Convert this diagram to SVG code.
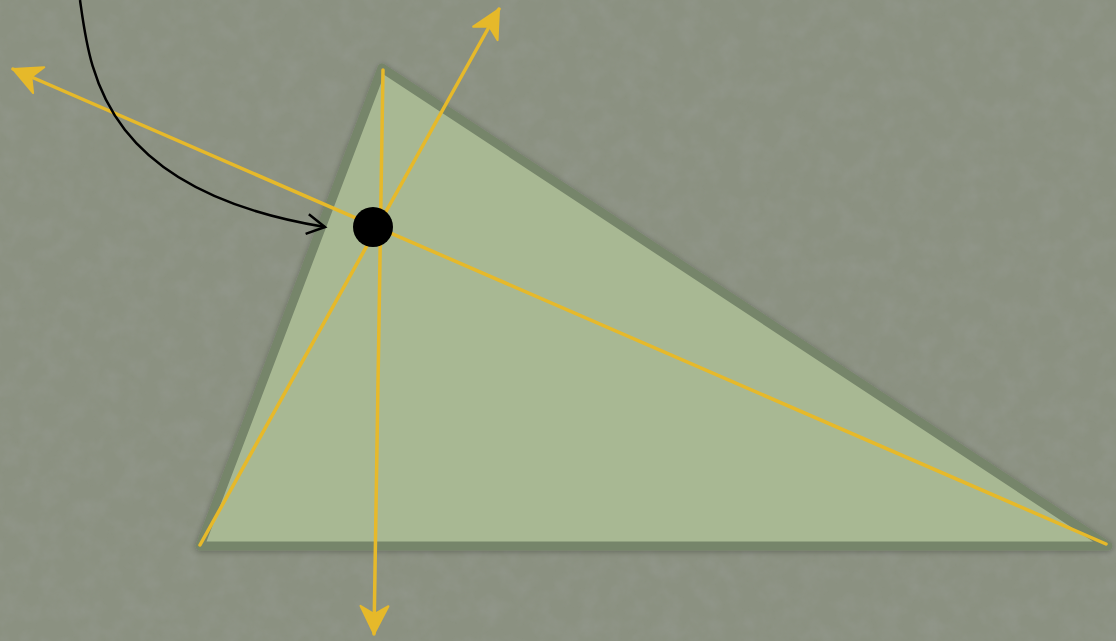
<svg xmlns="http://www.w3.org/2000/svg" width="1116" height="641" viewBox="0 0 1116 641">
<defs>
<filter id="tex" x="0" y="0" width="100%" height="100%">
<feTurbulence type="fractalNoise" baseFrequency="0.05" numOctaves="4" seed="3" result="n"/>
<feColorMatrix in="n" type="matrix" values="0 0 0 0 0.3  0 0 0 0 0.32  0 0 0 0 0.28  0 0 0 -1.0 0.6" result="m"/>
<feComposite in="m" in2="SourceGraphic" operator="in"/>
</filter>
<filter id="sh" x="-10%" y="-10%" width="120%" height="120%">
<feGaussianBlur in="SourceAlpha" stdDeviation="3"/>
<feOffset dx="0" dy="1"/>
<feComponentTransfer><feFuncA type="linear" slope="0.3"/></feComponentTransfer>
<feMerge><feMergeNode/><feMergeNode in="SourceGraphic"/></feMerge>
</filter>
<marker id="ya" markerUnits="userSpaceOnUse" markerWidth="40" markerHeight="40" viewBox="-30 -20 40 40" refX="0" refY="0" orient="auto">
<path d="M -28 -14 L 0 0 L -28 14 L -20 0 Z" fill="#e6b92a" stroke="#e6b92a" stroke-width="2" stroke-linejoin="round"/>
</marker>
<marker id="ba" markerUnits="userSpaceOnUse" markerWidth="30" markerHeight="30" viewBox="-20 -15 30 30" refX="0" refY="0" orient="auto">
<path d="M -18 -10 L 0 0 L -18 10" fill="none" stroke="#000" stroke-width="2.5" stroke-linejoin="miter"/>
</marker>
<style>
.alt{fill:none;stroke:#e6b92a;stroke-width:3.5;stroke-linecap:round;marker-end:url(#ya);}
</style>
</defs>
<rect width="1116" height="641" fill="#8b9181"/>
<rect width="1116" height="641" fill="#8b9181" filter="url(#tex)"/>
<g id="triangle" filter="url(#sh)">
<polygon points="382,68 200,546 1108,546" fill="#a8b893" stroke="#76856a" stroke-width="9" stroke-linejoin="round"/>
</g>
<g id="connectors">
<line class="alt" x1="383" y1="70" x2="374" y2="634"/>
<line class="alt" x1="200" y1="545" x2="499" y2="9"/>
<line class="alt" x1="1106" y1="544" x2="13" y2="69"/>
<path d="M 80 0 C 90 70, 100 190, 325 227" fill="none" stroke="#000" stroke-width="2.5" marker-end="url(#ba)"/>
</g>
<g id="orthocenter">
<circle cx="373" cy="227" r="20" fill="#000"/>
</g>
</svg>
